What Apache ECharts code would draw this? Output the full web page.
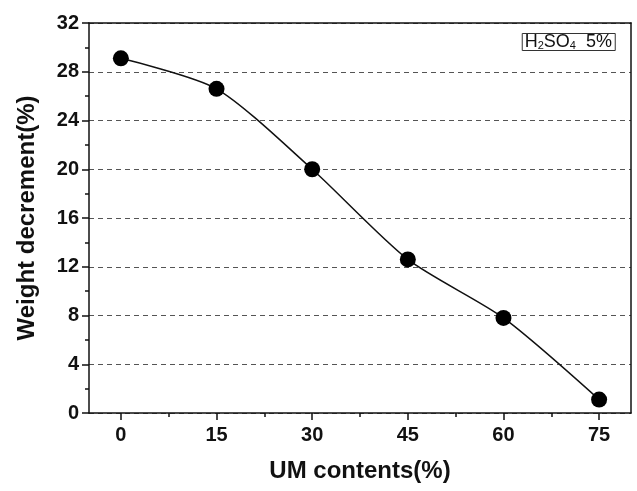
<!DOCTYPE html>
<html>
<head>
<meta charset="utf-8">
<script src="https://cdn.jsdelivr.net/npm/echarts@6/dist/echarts.min.js"></script>
<style>
  html, body { margin: 0; padding: 0; background: #fff; }
  #chart { width: 637px; height: 491px; }
</style>
</head>
<body>
<div id="chart"></div>
<script>
// UM contents (%) and weight decrement (%) in 5% H2SO4
const umContents = [0, 15, 30, 45, 60, 75]
const weightDecrement = [29.1, 26.6, 20.0, 12.6, 7.8, 1.1]
const xTicks = [0, 15, 30, 45, 60, 75]
const xMinorTicks = [7.5, 22.5, 37.5, 52.5, 67.5]

const font = 'Liberation Sans, Arial, sans-serif'
const chart = echarts.init(document.getElementById('chart'))

const option = {
  animation: false,
  backgroundColor: '#fff',
  title: {
    text: '{n|H}{s|2}{n|SO}{s|4}{n|  5%}',
    right: 22,
    top: 33,
    borderColor: '#333',
    borderWidth: 1,
    padding: [0, 3, 0, 3],
    textStyle: {
      rich: {
        n: { fontFamily: font, fontSize: 18, fontWeight: 'normal', color: '#111', verticalAlign: 'bottom', lineHeight: 18 },
        s: { fontFamily: font, fontSize: 11, fontWeight: 'normal', color: '#111', verticalAlign: 'bottom', lineHeight: 14 }
      }
    }
  },
  grid: { left: 89, right: 6, top: 23, bottom: 78 },
  xAxis: [
    {
      type: 'value',
      min: -5,
      max: 80,
      name: 'UM contents(%)',
      nameLocation: 'middle',
      nameGap: 46,
      nameTextStyle: { fontFamily: font, fontSize: 24, fontWeight: 'bold', color: '#111' },
      axisLine: { show: true, onZero: false, lineStyle: { color: '#111', width: 1.5 } },
      axisTick: { show: true, inside: false, length: 7, customValues: xTicks, lineStyle: { color: '#111', width: 1.5 } },
      axisLabel: { customValues: xTicks, fontFamily: font, fontSize: 20, fontWeight: 'bold', color: '#111', margin: 12 },
      splitLine: { show: false }
    },
    {
      type: 'value',
      min: -5,
      max: 80,
      position: 'bottom',
      axisLine: { show: false, onZero: false },
      axisTick: { show: true, inside: false, length: 4, customValues: xMinorTicks, lineStyle: { color: '#111', width: 1.5 } },
      axisLabel: { show: false },
      splitLine: { show: false }
    },
    {
      type: 'value',
      min: -5,
      max: 80,
      position: 'top',
      axisLine: { show: true, onZero: false, lineStyle: { color: '#111', width: 1.5 } },
      axisTick: { show: false },
      axisLabel: { show: false },
      splitLine: { show: false }
    }
  ],
  yAxis: [
    {
      type: 'value',
      min: 0,
      max: 32,
      interval: 4,
      name: 'Weight decrement(%)',
      nameLocation: 'middle',
      nameGap: 50,
      nameTextStyle: { fontFamily: font, fontSize: 24, fontWeight: 'bold', color: '#111' },
      axisLine: { show: true, onZero: false, lineStyle: { color: '#111', width: 1.5 } },
      axisTick: { show: true, inside: false, length: 7, lineStyle: { color: '#111', width: 1.5 } },
      minorTick: { show: true, splitNumber: 2, length: 4, lineStyle: { color: '#111', width: 1.5 } },
      axisLabel: { fontFamily: font, fontSize: 20, fontWeight: 'bold', color: '#111', margin: 10 },
      splitLine: { show: true, lineStyle: { color: '#555', width: 1, type: [5, 4] } }
    },
    {
      type: 'value',
      min: 0,
      max: 32,
      position: 'right',
      axisLine: { show: true, onZero: false, lineStyle: { color: '#111', width: 1.5 } },
      axisTick: { show: false },
      axisLabel: { show: false },
      splitLine: { show: false }
    }
  ],
  series: [
    {
      type: 'line',
      data: umContents.map((x, i) => [x, weightDecrement[i]]),
      smooth: 0.25,
      symbol: 'circle',
      symbolSize: 16,
      lineStyle: { color: '#111', width: 1.5 },
      itemStyle: { color: '#000' },
      z: 5
    }
  ]
}

chart.setOption(option)
</script>
</body>
</html>
